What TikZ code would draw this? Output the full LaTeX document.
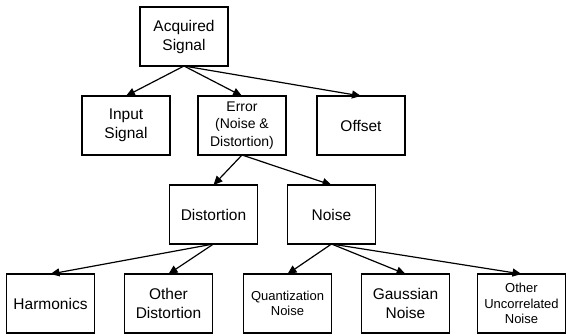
\documentclass[tikz,border=0pt]{standalone}
\usepackage{fontspec}
\setmainfont{Liberation Sans}
\usetikzlibrary{arrows.meta, positioning}

\begin{document}
\begin{tikzpicture}[
        node distance=30pt and 30pt,
        box/.style={rectangle, draw=black, line width=1.4pt, minimum width=88pt, minimum height=59pt,
                    inner sep=2pt, outer sep=0pt, align=center, font=\fontsize{15.5}{19}\selectfont},
        midbox/.style={box, font=\fontsize{14}{17.5}\selectfont},
        smallbox/.style={box, font=\fontsize{13}{15.5}\selectfont},
        arrow/.style={draw, -{Triangle[length=9pt, width=8pt]}, line width=1.2pt}
    ]
        \useasboundingbox (0,0) rectangle (566pt,-335pt);
        \node [box] (acq) at (184pt,-36.5pt) {Acquired\\Signal};
        \node [midbox, below=of acq, xshift=58pt] (err) {Error\\(Noise \&\\Distortion)};
        \node [box, left=28pt of err]  (inp) {Input\\Signal};
        \node [box, right=31pt of err] (off) {Offset};
        \node [box, below=of err, xshift=-28.5pt] (dist) {Distortion};
        \node [box, right=of dist] (noise) {Noise};
        \node [smallbox, below=of noise, xshift=-44pt] (quant) {Quantization\\Noise};
        \node [box, right=of quant]      (gauss) {Gaussian\\Noise};
        \node [smallbox, right=28pt of gauss] (othn) {Other\\Uncorrelated\\Noise};
        \node [box, left=31pt of quant]  (othd) {Other\\Distortion};
        \node [box, left=of othd]        (harm) {Harmonics};
        \path [arrow] (acq.south)   -- (inp.north);
        \path [arrow] (acq.south)   -- (err.north);
        \path [arrow] (acq.south)   -- (off.north);
        \path [arrow] (err.south)   -- (dist.north);
        \path [arrow] (err.south)   -- (noise.north);
        \path [arrow] (dist.south)  -- (harm.north);
        \path [arrow] (dist.south)  -- (othd.north);
        \path [arrow] (noise.south) -- (quant.north);
        \path [arrow] (noise.south) -- (gauss.north);
        \path [arrow] (noise.south) -- (othn.north);
    \end{tikzpicture}
\end{document}
